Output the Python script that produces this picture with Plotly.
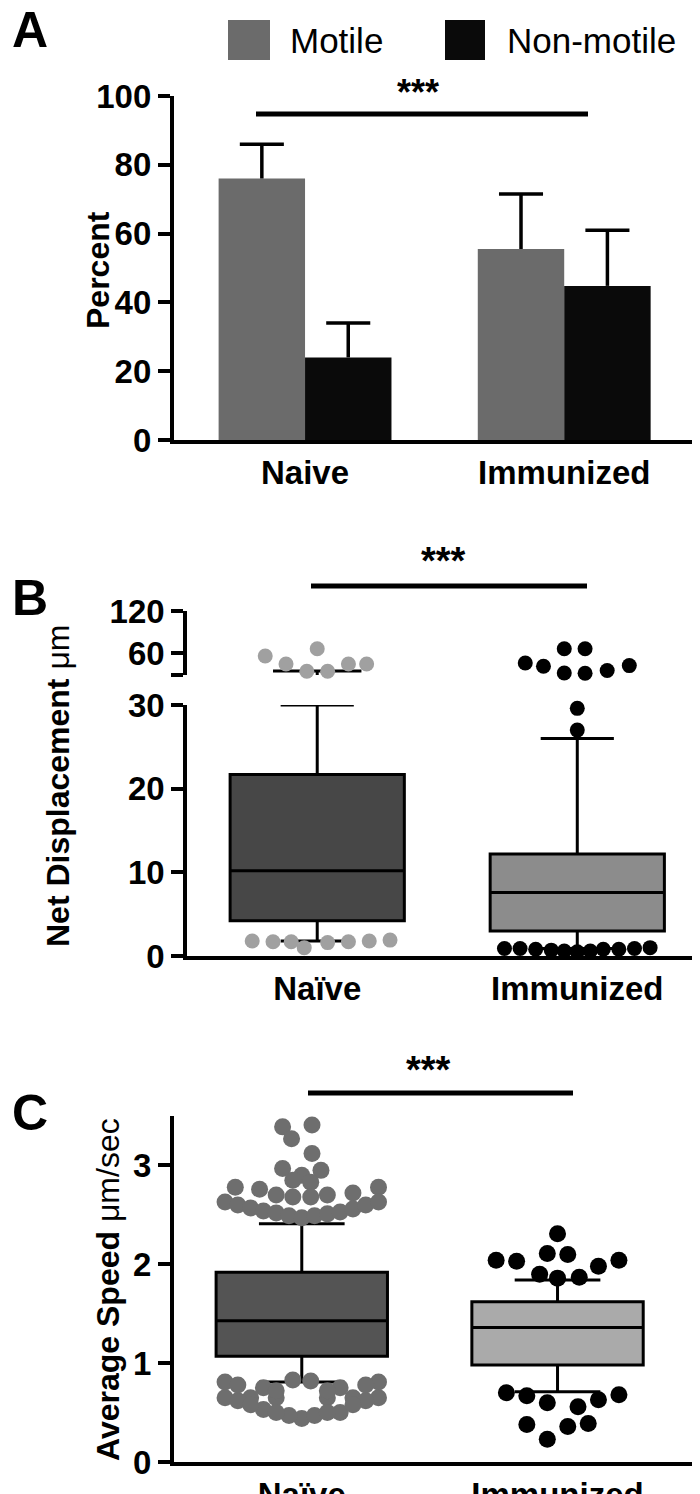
import plotly.graph_objects as go

H = 1494.0
FONT = "Liberation Sans"

# ---------- Panel A data ----------
groups_a = ["Naive", "Immunized"]
motile = [76, 55.5]
motile_err = [10, 16]
nonmotile = [24, 44.8]
nonmotile_err = [10, 16.2]

# ---------- Panel B data ----------
b_labels = ["Naïve", "Immunized"]
b_q1 = [4.2, 3.0]
b_med = [10.2, 7.6]
b_q3 = [21.7, 12.2]
b_lo = [1.8, 0.9]
b_hi = [30, 26]
b_naive_hi_cap = 34.3
b_naive_up_x = [-0.20, -0.12, -0.04, 0.0, 0.04, 0.12, 0.19]
b_naive_up_y = [55.7, 44.3, 34.0, 66, 34.0, 44.3, 44.3]
b_naive_lo_x = [-0.25, -0.17, -0.10, -0.05, 0.04, 0.12, 0.20, 0.28]
b_naive_lo_y = [1.8, 1.7, 1.7, 1.0, 1.6, 1.7, 1.8, 1.9]
b_imm_up_x = [-0.20, -0.13, -0.05, -0.05, 0.03, 0.03, 0.115, 0.20]
b_imm_up_y = [45.7, 41, 66, 31.5, 66, 31.0, 35, 42]
b_imm_mid_x = [0.0, 0.0]
b_imm_mid_y = [29.6, 27.0]
b_imm_lo_x = [-0.28, -0.22, -0.16, -0.10, -0.05, 0.0, 0.05, 0.10, 0.16, 0.22, 0.28]
b_imm_lo_y = [0.9, 0.9, 0.8, 0.7, 0.6, 0.5, 0.6, 0.8, 0.8, 0.9, 1.0]

# ---------- Panel C data ----------
c_labels = ["Naïve", "Immunized"]
c_q1 = [1.07, 0.98]
c_med = [1.43, 1.36]
c_q3 = [1.92, 1.62]
c_lo = [0.81, 0.71]
c_hi = [2.41, 1.84]
c_naive_x = [-0.075, 0.04, -0.04, 0.04, -0.075, 0.075, 0.0, -0.035, 0.035,
             -0.26, -0.165, -0.10, -0.035, 0.035, 0.10, 0.20, 0.30,
             -0.30, -0.25, -0.2, -0.15, -0.1, -0.05, 0.0, 0.05, 0.1, 0.15, 0.2, 0.25, 0.30,
             -0.035, 0.035, -0.30, 0.30,
             -0.30, -0.2, -0.1, 0.1, 0.2, 0.30,
             -0.15, 0.0, 0.15, -0.25, -0.05, 0.05, 0.25, -0.2, 0.2, -0.1, 0.1,
             -0.25, -0.15, 0.15, 0.25, -0.1, 0.1]
c_naive_y = [3.39, 3.41, 3.27, 3.12, 2.97, 2.95, 2.90, 2.85, 2.83,
             2.78, 2.76, 2.70, 2.68, 2.68, 2.70, 2.72, 2.78,
             2.63, 2.60, 2.57, 2.54, 2.52, 2.49, 2.47, 2.49, 2.51, 2.53, 2.56, 2.60, 2.63,
             0.83, 0.82, 0.81, 0.81,
             0.65, 0.65, 0.65, 0.65, 0.65, 0.65,
             0.53, 0.44, 0.50, 0.62, 0.47, 0.47, 0.62, 0.58, 0.58, 0.50, 0.50,
             0.78, 0.75, 0.75, 0.78, 0.72, 0.72]
c_imm_x = [0.0, -0.24, -0.16, -0.04, 0.04, 0.16, 0.24, -0.07, 0.0, 0.085,
           -0.20, -0.12, -0.04, 0.08, 0.16, 0.24, -0.12, 0.04, 0.12, -0.04]
c_imm_y = [2.31, 2.04, 2.03, 2.11, 2.10, 1.98, 2.04, 1.90, 1.86, 1.87,
           0.70, 0.67, 0.60, 0.56, 0.63, 0.68, 0.38, 0.36, 0.39, 0.23]


def py(p):
    return 1 - p / H


fig = go.Figure()

# Panel A bars
fig.add_bar(x=[0, 1], y=motile, name="Motile", marker_color="#6b6b6b", marker_line_width=0,
            xaxis="x", yaxis="y", showlegend=False)
fig.add_bar(x=[0, 1], y=nonmotile, name="Non-motile", marker_color="#0a0a0a", marker_line_width=0,
            xaxis="x", yaxis="y", showlegend=False)
# upward-only error bars
for off, vals, errs in [(-0.1667, motile, motile_err), (0.1667, nonmotile, nonmotile_err)]:
    xs, ys = [], []
    for i in range(2):
        xc = i + off
        top = vals[i] + errs[i]
        xs += [xc, xc, None, xc - 0.085, xc + 0.085, None]
        ys += [vals[i], top, None, top, top, None]
    fig.add_scatter(x=xs, y=ys, mode="lines", line=dict(color="black", width=3.5),
                    xaxis="x", yaxis="y", showlegend=False)

# Panel B boxes
for i, fc in enumerate(["#474747", "#8c8c8c"]):
    fig.add_trace(go.Box(x=[i], q1=[b_q1[i]], median=[b_med[i]], q3=[b_q3[i]],
                         lowerfence=[b_lo[i]], upperfence=[b_hi[i]], width=0.67,
                         whiskerwidth=0.42, fillcolor=fc, line=dict(color="black", width=3),
                         boxpoints=False, xaxis="x2", yaxis="y2", showlegend=False))
fig.add_scatter(x=[0, 0], y=[28.6, b_naive_hi_cap], mode="lines", line=dict(color="black", width=3),
                xaxis="x3", yaxis="y3", showlegend=False)
fig.add_scatter(x=[-0.17, 0.17], y=[b_naive_hi_cap, b_naive_hi_cap], mode="lines",
                line=dict(color="black", width=3), xaxis="x3", yaxis="y3", showlegend=False)
dot_b = dict(size=15, line=dict(width=0))
fig.add_scatter(x=b_naive_up_x, y=b_naive_up_y, mode="markers", marker=dict(color="#a0a0a0", **dot_b),
                xaxis="x3", yaxis="y3", showlegend=False, cliponaxis=False)
fig.add_scatter(x=[1 + v for v in b_imm_up_x], y=b_imm_up_y, mode="markers", marker=dict(color="black", **dot_b),
                xaxis="x3", yaxis="y3", showlegend=False, cliponaxis=False)
fig.add_scatter(x=b_naive_lo_x, y=b_naive_lo_y, mode="markers", marker=dict(color="#a0a0a0", **dot_b),
                xaxis="x2", yaxis="y2", showlegend=False, cliponaxis=False)
fig.add_scatter(x=[1 + v for v in b_imm_lo_x] + [1 + v for v in b_imm_mid_x], y=b_imm_lo_y + b_imm_mid_y,
                mode="markers", marker=dict(color="black", **dot_b),
                xaxis="x2", yaxis="y2", showlegend=False, cliponaxis=False)

# Panel C boxes
for i, fc in enumerate(["#545454", "#aaaaaa"]):
    fig.add_trace(go.Box(x=[i], q1=[c_q1[i]], median=[c_med[i]], q3=[c_q3[i]],
                         lowerfence=[c_lo[i]], upperfence=[c_hi[i]], width=0.67,
                         whiskerwidth=0.5, fillcolor=fc, line=dict(color="black", width=3),
                         boxpoints=False, xaxis="x4", yaxis="y4", showlegend=False))
dot_c = dict(size=17, line=dict(width=0))
fig.add_scatter(x=c_naive_x, y=c_naive_y, mode="markers", marker=dict(color="#6e6e6e", **dot_c),
                xaxis="x4", yaxis="y4", showlegend=False, cliponaxis=False)
fig.add_scatter(x=[1 + v for v in c_imm_x], y=c_imm_y, mode="markers", marker=dict(color="black", **dot_c),
                xaxis="x4", yaxis="y4", showlegend=False, cliponaxis=False)

tickfont = dict(family=FONT, size=33, color="black")
yax = dict(showline=True, linewidth=4, linecolor="black", ticks="outside", ticklen=12, tickwidth=4,
           tickcolor="black", showgrid=False, zeroline=False, tickfont=tickfont)
xax = dict(showline=True, linewidth=4, linecolor="black", ticks="", showgrid=False, zeroline=False,
           tickfont=tickfont, tickvals=[0, 1])

fig.update_layout(
    width=700, height=1494, margin=dict(l=0, r=0, t=0, b=0, autoexpand=False),
    plot_bgcolor="white", paper_bgcolor="white",
    barmode="group", bargap=0.333, bargroupgap=0,
    xaxis=dict(xax, domain=[0.237, 0.986], range=[-0.506, 1.517], ticktext=["<b>Naive</b>", "<b>Immunized</b>"],
               anchor="y"),
    yaxis=dict(yax, domain=[py(432), py(88)], range=[0, 100], tickvals=[0, 20, 40, 60, 80, 100],
               ticktext=["<b>%d</b>" % v for v in [0, 20, 40, 60, 80, 100]], anchor="x"),
    xaxis2=dict(xax, domain=[0.256, 0.986], range=[-0.5, 1.465], ticktext=["<b>Naïve</b>", "<b>Immunized</b>"],
                anchor="y2"),
    yaxis2=dict(yax, domain=[py(948), py(697)], range=[0, 30], tickvals=[0, 10, 20, 30],
                ticktext=["<b>0</b>", "<b>10</b>", "<b>20</b>", "<b>30</b>"], anchor="x2"),
    xaxis3=dict(domain=[0.256, 0.986], range=[-0.5, 1.465], visible=False, anchor="y3"),
    yaxis3=dict(yax, domain=[py(667), py(603)], range=[28.6, 120], tickvals=[28.6, 60, 120],
                ticktext=["", "<b>60</b>", "<b>120</b>"], anchor="x3"),
    xaxis4=dict(xax, domain=[0.237, 0.986], range=[-0.5, 1.55], ticktext=["<b>Naïve</b>", "<b>Immunized</b>"],
                anchor="y4"),
    yaxis4=dict(yax, domain=[py(1454), py(1108)], range=[0, 3.5], tickvals=[0, 1, 2, 3],
                ticktext=["<b>0</b>", "<b>1</b>", "<b>2</b>", "<b>3</b>"], anchor="x4"),
)

def ann(text, x, y, size, angle=0, xanchor="center"):
    fig.add_annotation(text=text, x=x / 700, y=py(y), xref="paper", yref="paper", showarrow=False,
                       font=dict(family=FONT, size=size, color="black"), textangle=angle,
                       xanchor=xanchor, yanchor="middle")

ann("<b>A</b>", 22, 22, 50)
ann("<b>B</b>", 22, 590, 50)
ann("<b>C</b>", 22, 1105, 50)
ann("<b>Percent</b>", 90, 262, 32, -90)
ann("<b>Net Displacement</b> μm", 50, 778, 32, -90)
ann("<b>Average Speed</b> μm/sec", 100, 1282, 32, -90)
ann("<b>***</b>", 410, 84, 36)
ann("<b>***</b>", 435, 553, 38)
ann("<b>***</b>", 420, 1062, 38)
ann("Motile", 280, 32, 35, xanchor="left")
ann("Non-motile", 497, 32, 35, xanchor="left")

def rect(x0, y0, x1, y1, c):
    fig.add_shape(type="rect", xref="paper", yref="paper", x0=x0 / 700, x1=x1 / 700, y0=py(y1), y1=py(y0),
                  fillcolor=c, line_width=0)

rect(220, 12, 262, 52, "#6b6b6b")
rect(437, 12, 477, 52, "#0a0a0a")

def hline(x0, x1, y):
    fig.add_shape(type="line", xref="paper", yref="paper", x0=x0 / 700, x1=x1 / 700, y0=py(y), y1=py(y),
                  line=dict(color="black", width=5))

hline(248, 580, 106)
hline(303, 579, 578)
hline(300, 565, 1085)

fig.write_html("out.html")
